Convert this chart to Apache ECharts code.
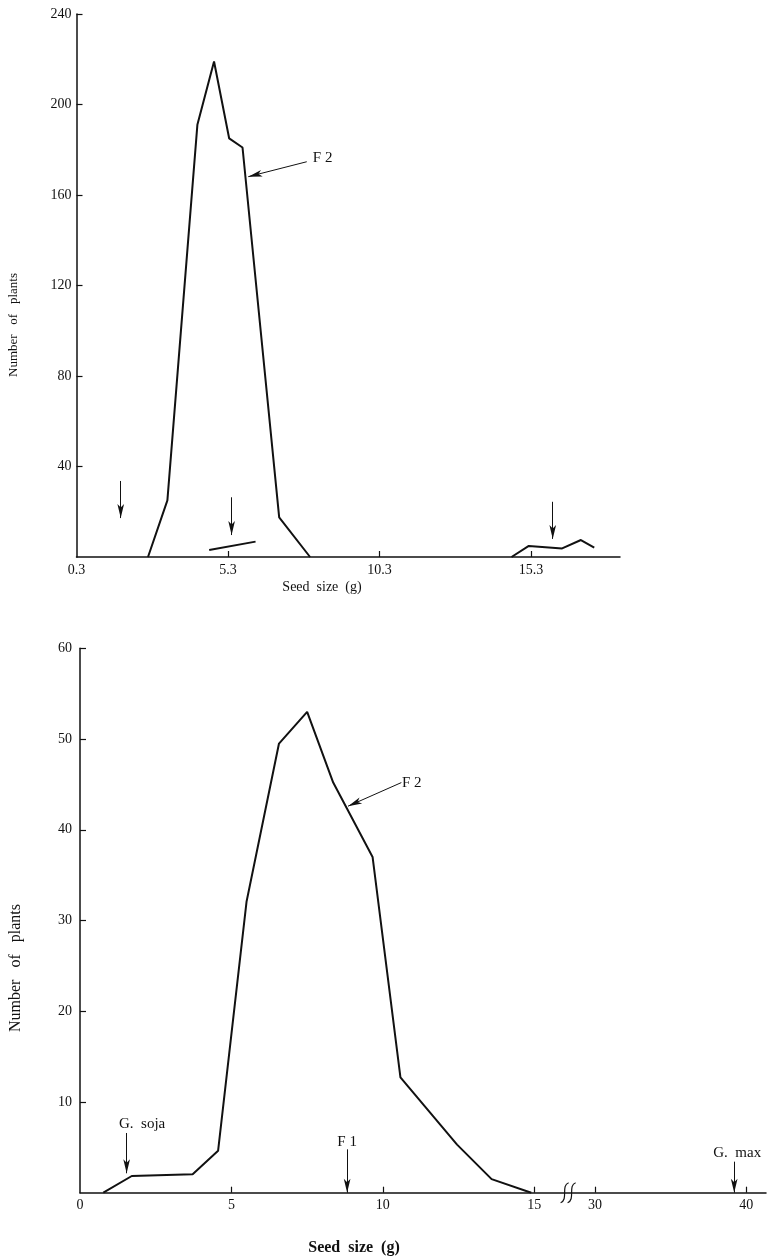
<!DOCTYPE html>
<html>
<head>
<meta charset="utf-8">
<script src="https://cdn.jsdelivr.net/npm/echarts@6/dist/echarts.min.js"></script>
<style>
html,body{margin:0;padding:0;background:#fff;}
#main{width:767px;height:1258px;}
</style>
</head>
<body>
<div id="main"></div>
<script>
// ---- upper panel: F2 distribution + parent markers
var topF2 = [[2.66,0],[3.3,25],[4.29,191],[4.84,219],[5.34,185],[5.78,181],[6.99,17.5],[8.01,0]];
var topF1 = [[4.68,3.1],[6.21,6.8]];
var topP2 = [[14.66,0],[15.23,4.9],[16.33,3.8],[16.95,7.5],[17.39,4.1]];
var topArrows = [[1.76,33.6,17.2],[5.42,26.4,9.7],[16.02,24.4,8.0]];
var topXLabels = [0.3,5.3,10.3,15.3];
var topXTicks = [5.3,10.3,15.3];

// ---- lower panel: F2 distribution, x axis broken between 15 and 30
var lowF2 = [[0.77,0],[1.71,1.84],[3.72,2.03],[4.56,4.63],[5.5,32.1],[6.57,49.5],[7.5,53],[8.36,45.2],[9.66,37],[10.58,12.7],[12.45,5.3],[13.59,1.5],[14.9,0]];
var lowArrows = [['G. soja',1.54,6.58,2.14],['F 1',8.82,4.78,0],['G. max',39.2,3.42,0]];
var lowArrowText = [['G.  soja',2.05,7.57],['F 1',8.82,5.62],['G.  max',39.4,4.38]];
var lowXLabels = [0,5,10,15,30,40];
var lowXTicks = [5,10,15,30,40];

function toAxis(x){ return x <= 16 ? x : 17 + (x - 30) / 2; }
function fromAxis(v){ return v <= 16 ? v : 30 + (v - 17) * 2; }

var serif = 'Liberation Serif';
var arrowLine = {
    silent: true, animation: false,
    symbol: ['none','arrow'], symbolSize: [5,14],
    label: {show: false},
    lineStyle: {color: '#111', width: 1, type: 'solid'},
    emphasis: {disabled: true}
};
function markLines(list){
    var o = echarts.util.clone(arrowLine);
    o.data = list;
    return o;
}

var topMarks = topArrows.map(function(a){ return [{coord:[a[0],a[1]]},{coord:[a[0],a[2]]}]; });
topMarks.push([{coord:[7.9,174.7]},{coord:[5.97,168.1]}]);
var lowMarks = lowArrows.map(function(a){ return [{coord:[toAxis(a[1]),a[2]]},{coord:[toAxis(a[1]),a[3]]}]; });
lowMarks.push([{coord:[10.61,45.2]},{coord:[8.85,42.6]}]);

var axisCommon = {
    axisLine: {lineStyle: {color: '#111', width: 1.5}},
    axisTick: {inside: true, length: 6, lineStyle: {color: '#111', width: 1.2}},
    splitLine: {show: false},
    axisLabel: {color: '#111', fontFamily: serif, fontSize: 14}
};
function ax(extra){ return echarts.util.merge(echarts.util.clone(axisCommon), extra, true); }

var lineStyle = {color: '#111', width: 2};
function textSeries(xi, data, pos){
    return {type: 'scatter', xAxisIndex: xi, yAxisIndex: xi, data: data, symbolSize: 0, silent: true,
        itemStyle: {opacity: 1},
        label: {show: true, position: pos, distance: 0, formatter: function(p){ return p.data[2]; },
                color: '#111', fontFamily: serif, fontSize: 15}};
}
var chart = echarts.init(document.getElementById('main'));
chart.setOption({
    animation: false,
    grid: [
        {left: 76.5, top: 14, width: 543.5, height: 543},
        {left: 80, top: 648.3, width: 686, height: 544.4}
    ],
    xAxis: [
        ax({gridIndex: 0, type: 'value', min: 0.3, max: 18.24,
            axisTick: {customValues: topXTicks},
            axisLabel: {customValues: topXLabels, margin: 6, formatter: function(v){ return v.toFixed(1); }}}),
        ax({gridIndex: 1, type: 'value', min: 0, max: 22.65,
            axisTick: {customValues: lowXTicks.map(toAxis)},
            axisLabel: {customValues: lowXLabels.map(toAxis), margin: 6, formatter: function(v){ return String(Math.round(fromAxis(v))); }}})
    ],
    yAxis: [
        ax({gridIndex: 0, type: 'value', min: 0, max: 240, interval: 40,
            axisLabel: {showMinLabel: false, margin: 5}}),
        ax({gridIndex: 1, type: 'value', min: 0, max: 60, interval: 10,
            axisLabel: {showMinLabel: false, margin: 8}})
    ],
    series: [
        {type: 'line', xAxisIndex: 0, yAxisIndex: 0, data: topF2, symbol: 'none', lineStyle: lineStyle,
         markLine: markLines(topMarks)},
        {type: 'line', xAxisIndex: 0, yAxisIndex: 0, data: topF1, symbol: 'none', lineStyle: lineStyle},
        {type: 'line', xAxisIndex: 0, yAxisIndex: 0, data: topP2, symbol: 'none', lineStyle: lineStyle},
        textSeries(0, [[8.1,176.4,'F 2']], 'right'),
        {type: 'line', xAxisIndex: 1, yAxisIndex: 1, data: lowF2.map(function(d){ return [toAxis(d[0]), d[1]]; }),
         symbol: 'none', lineStyle: lineStyle, markLine: markLines(lowMarks)},
        textSeries(1, lowArrowText.map(function(t){ return [toAxis(t[1]), t[2], t[0]]; }), 'inside'),
        textSeries(1, [[10.63,45.2,'F 2']], 'right')
    ]
});

// axis titles and the break sign on the lower x axis
var bp = chart.convertToPixel({xAxisIndex: 1, yAxisIndex: 1}, [16.1, 0]);
var cx = bp[0], cy = bp[1];
function sCurve(dx){
    return {type: 'bezierCurve', silent: true,
        shape: {x1: cx+dx-4, y1: cy+10, cpx1: cx+dx+4, cpy1: cy+7, cpx2: cx+dx-4, cpy2: cy-7, x2: cx+dx+4, y2: cy-10},
        style: {stroke: '#111', lineWidth: 1.2, fill: null}};
}
function title(text, x, y, font, rot){
    return {type: 'text', x: x, y: y, rotation: rot || 0, silent: true,
        style: {text: text, fill: '#111', font: font, align: 'center', verticalAlign: 'middle'}};
}
chart.setOption({
    graphic: [
        {type: 'rect', silent: true, shape: {x: cx-6, y: cy-3, width: 12, height: 6}, style: {fill: '#fff'}},
        sCurve(-3), sCurve(4),
        title('Number   of   plants', 14, 325, '13px "Liberation Serif"', Math.PI/2),
        title('Seed  size  (g)', 322, 587, '14px "Liberation Serif"'),
        title('Number   of   plants', 16, 968, '16px "Liberation Serif"', Math.PI/2),
        title('Seed  size  (g)', 354, 1248, 'bold 16px "Liberation Serif"')
    ]
});
</script>
</body>
</html>
